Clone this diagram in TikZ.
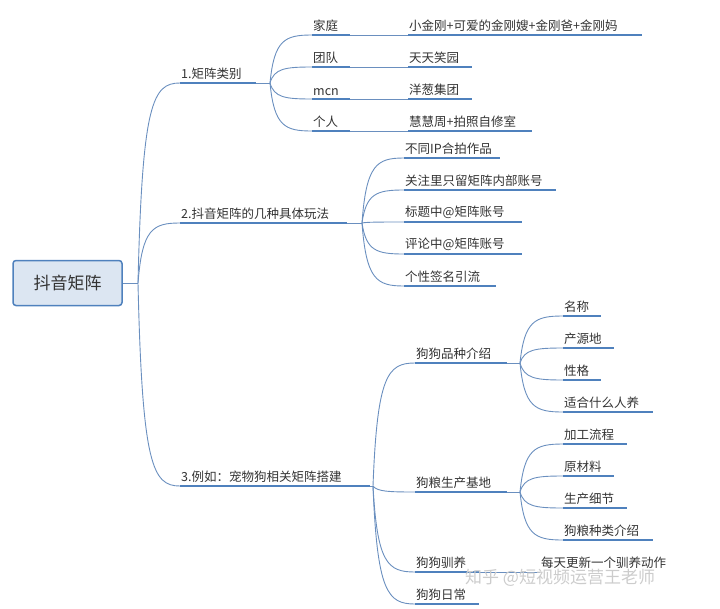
\documentclass[tikz,border=0pt]{standalone}
\usepackage{fontspec}
\setmainfont{Noto Sans CJK SC}
\usetikzlibrary{calc}
\definecolor{ulc}{HTML}{4F81BD}
\definecolor{cnc}{HTML}{6A8FBF}
\definecolor{txt}{HTML}{333333}
\tikzset{
  lbl/.style={font=\fontsize{12.5pt}{14pt}\selectfont, text=txt, inner xsep=1pt, inner ysep=3pt, align=left, anchor=south west},
  ul/.style={ulc, line width=2.6pt},
  cn/.style={cnc, line width=0.9pt},
}
\newcommand\leaf[5]{\node[lbl, text width=#4pt-2pt] (#1) at (#2,#3) {#5};
  \draw[ul] (#1.south west) -- (#1.south east);}
\newcommand\br[2]{\draw[cn] let \p1=(#1), \p2=(#2.south west) in (#1) .. controls ({\x1+0.1*(\x2-\x1)},{\y1+0.9*(\y2-\y1)}) and ({\x1+0.35*(\x2-\x1)},{\y2}) .. (#2.south west);}
\begin{document}
\begin{tikzpicture}[x=1pt,y=-1pt]
\useasboundingbox (0,0) rectangle (720,608);
\node[draw=ulc, line width=1.5pt, fill=ulc!20, rounded corners=3pt, minimum width=109pt, minimum height=45pt, font=\fontsize{17pt}{19pt}\selectfont, text=txt] (root) at (67.5,283) {抖音矩阵};
\coordinate (h0) at (138,283);
\draw[cn] (root.east) -- (h0);
% level 1
\leaf{a}{180}{83}{76}{1.矩阵类别}
\leaf{b}{180}{223}{167}{2.抖音矩阵的几种具体玩法}
\leaf{c}{180}{486}{190}{3.例如：宠物狗相关矩阵搭建}
\br{h0}{a}\br{h0}{b}\br{h0}{c}
% 1 children
\coordinate (ha) at (270,83);
\draw[cn] (a.south east) -- (ha);
\leaf{a1}{312}{35}{38}{家庭}
\leaf{a2}{312}{67}{38}{团队}
\leaf{a3}{312}{99}{38}{mcn}
\leaf{a4}{312}{131}{38}{个人}
\foreach \k in {a1,a2,a3,a4}{\br{ha}{\k}}
\leaf{a1r}{408}{35}{234}{小金刚+可爱的金刚嫂+金刚爸+金刚妈}
\leaf{a2r}{408}{67}{64}{天天笑园}
\leaf{a3r}{408}{99}{64}{洋葱集团}
\leaf{a4r}{408}{131}{124}{慧慧周+拍照自修室}
\draw[cn] (a1.south east) -- (a1r.south west);
\draw[cn] (a2.south east) -- (a2r.south west);
\draw[cn] (a3.south east) -- (a3r.south west);
\draw[cn] (a4.south east) -- (a4r.south west);
% 2 children
\coordinate (hb) at (362,223);
\draw[cn] (b.south east) -- (hb);
\leaf{b1}{404}{158}{96}{不同IP合拍作品}
\leaf{b2}{404}{190}{152}{关注里只留矩阵内部账号}
\leaf{b3}{404}{222}{118}{标题中@矩阵账号}
\leaf{b4}{404}{254}{118}{评论中@矩阵账号}
\leaf{b5}{404}{286}{92}{个性签名引流}
\foreach \k in {b1,b2,b3,b4,b5}{\br{hb}{\k}}
% 3 children
\coordinate (hc) at (373,486);
\draw[cn] (c.south east) -- (hc);
\leaf{c1}{415}{363}{92}{狗狗品种介绍}
\leaf{c2}{415}{492}{92}{狗粮生产基地}
\leaf{c3}{415}{572}{64}{狗狗驯养}
\leaf{c4}{415}{604}{64}{狗狗日常}
\foreach \k in {c1,c2,c3,c4}{\br{hc}{\k}}
\coordinate (hc1) at (520,363);
\draw[cn] (c1.south east) -- (hc1);
\leaf{d1}{563}{316}{38}{名称}
\leaf{d2}{563}{348}{51}{产源地}
\leaf{d3}{563}{380}{38}{性格}
\leaf{d4}{563}{412}{90}{适合什么人养}
\foreach \k in {d1,d2,d3,d4}{\br{hc1}{\k}}
\coordinate (hc2) at (520,492);
\draw[cn] (c2.south east) -- (hc2);
\leaf{e1}{563}{444}{64}{加工流程}
\leaf{e2}{563}{476}{51}{原材料}
\leaf{e3}{563}{508}{64}{生产细节}
\leaf{e4}{563}{540}{90}{狗粮种类介绍}
\foreach \k in {e1,e2,e3,e4}{\br{hc2}{\k}}
\node[lbl, anchor=south west] (f1) at (540,572) {每天更新一个驯养动作};
\draw[cn] (c3.south east) -- (f1.south west);
\node[font=\fontsize{17pt}{19pt}\selectfont, text=gray!40, anchor=west, inner sep=0pt] (wm) at (465,578) {知乎 @短视频运营王老师};
\end{tikzpicture}
\end{document}
